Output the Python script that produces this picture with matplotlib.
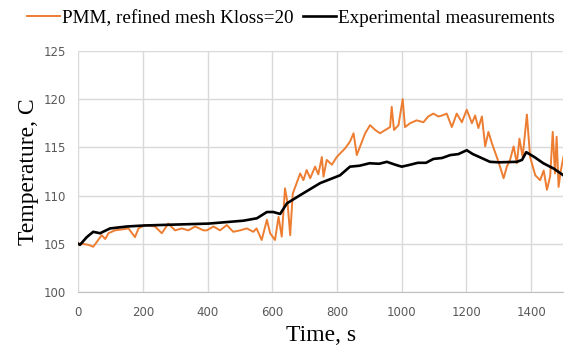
import matplotlib
matplotlib.use("Agg")
import matplotlib.pyplot as plt

# Experimental measurements (black)
exp_t = [0, 5, 26, 46, 67, 98, 150, 201, 300, 402, 510, 552, 583, 603, 624, 645,
         686, 748, 809, 840, 870, 900, 930, 954, 980, 1000, 1020, 1050, 1075, 1098,
         1125, 1150, 1175, 1201, 1220, 1240, 1273, 1300, 1356, 1372, 1385, 1410,
         1438, 1470, 1500]
exp_T = [105.0, 104.9, 105.7, 106.25, 106.1, 106.6, 106.8, 106.9, 107.0, 107.1,
         107.4, 107.65, 108.3, 108.3, 108.1, 109.2, 110.05, 111.3, 112.1, 113.0,
         113.1, 113.35, 113.3, 113.5, 113.2, 113.0, 113.15, 113.4, 113.4, 113.8,
         113.9, 114.2, 114.3, 114.7, 114.3, 114.0, 113.5, 113.45, 113.5, 113.7,
         114.5, 114.0, 113.35, 112.8, 112.1]

# PMM, refined mesh Kloss=20 (orange)
pmm_t = [0, 5, 31, 46, 57, 72, 83, 93, 113, 134, 155, 175, 186, 206, 237, 258,
         278, 299, 320, 340, 361, 387, 397, 418, 438, 459, 479, 500, 521, 541,
         551, 567, 583, 593, 608, 619, 629, 639, 647, 655, 663, 675, 686, 696,
         706, 717, 732, 742, 753, 758, 768, 784, 799, 809, 825, 840, 851, 861,
         877, 887, 902, 918, 933, 949, 964, 969, 976, 990, 1003, 1010, 1026,
         1046, 1067, 1082, 1098, 1113, 1125, 1139, 1155, 1170, 1186, 1201, 1217,
         1227, 1237, 1248, 1258, 1268, 1279, 1294, 1304, 1315, 1325, 1335, 1346,
         1356, 1364, 1374, 1387, 1397, 1413, 1428, 1439, 1449, 1459, 1467, 1474,
         1479, 1485, 1492, 1500]
pmm_T = [105.0, 105.05, 104.9, 104.7, 105.2, 105.9, 105.5, 106.1, 106.4, 106.5,
         106.6, 105.7, 106.6, 106.95, 106.8, 106.1, 107.1, 106.4, 106.6, 106.4,
         106.8, 106.4, 106.4, 106.8, 106.4, 106.95, 106.25, 106.4, 106.6, 106.25,
         106.6, 105.4, 107.5, 106.1, 105.4, 107.8, 105.75, 110.75, 109.2, 105.9,
         110.2, 111.3, 112.3, 111.6, 112.65, 111.8, 113.0, 112.2, 114.0, 111.96,
         113.7, 113.2, 114.0, 114.35, 114.9, 115.6, 116.46, 114.2, 115.6, 116.46,
         117.3, 116.8, 116.46, 116.8, 117.1, 119.2, 116.8, 117.3, 120.0, 117.1,
         117.5, 117.8, 117.6, 118.2, 118.5, 118.2, 118.3, 118.5, 117.1, 118.5,
         117.6, 118.9, 117.5, 118.3, 117.0, 118.2, 115.1, 116.6, 115.4, 114.0,
         113.0, 111.8, 113.0, 113.7, 115.1, 113.35, 115.9, 114.0, 118.4, 114.0,
         112.1, 111.6, 112.6, 110.6, 112.0, 116.6, 112.3, 116.1, 110.9, 112.6,
         114.0]

x_ticks = [0, 200, 400, 600, 800, 1000, 1200, 1400]
y_ticks = [100, 105, 110, 115, 120, 125]

fig = plt.figure(figsize=(5.72, 3.58), dpi=100)
ax = fig.add_axes([0.137, 0.184, 0.848, 0.674])

ax.plot(pmm_t, pmm_T, color="#ED7D31", lw=1.4, label="PMM, refined mesh Kloss=20")
ax.plot(exp_t, exp_T, color="black", lw=1.9, label="Experimental measurements")

ax.set_xlim(0, 1500)
ax.set_ylim(100, 125)
ax.set_xticks(x_ticks)
ax.set_yticks(y_ticks)
ax.grid(True, color="#D9D9D9", lw=1.0)
ax.set_axisbelow(True)
for s in ["top", "right", "left"]:
    ax.spines[s].set_visible(False)
ax.spines["bottom"].set_color("#BFBFBF")
ax.tick_params(length=0, labelsize=8.5, colors="#595959")
ax.tick_params(axis="x", pad=10)
ax.tick_params(axis="y", pad=9)

ax.set_xlabel("Time, s", family="Liberation Serif", fontsize=17, labelpad=4)
ax.set_ylabel("Temperature, C", family="Liberation Serif", fontsize=17, labelpad=3)

fig.legend(loc="center", bbox_to_anchor=(0.509, 0.95), ncol=2, frameon=False,
           prop={"family": "Liberation Serif", "size": 13.8}, handlelength=1.72,
           handletextpad=0.1, columnspacing=0.5)

fig.savefig("out.png", dpi=100)
